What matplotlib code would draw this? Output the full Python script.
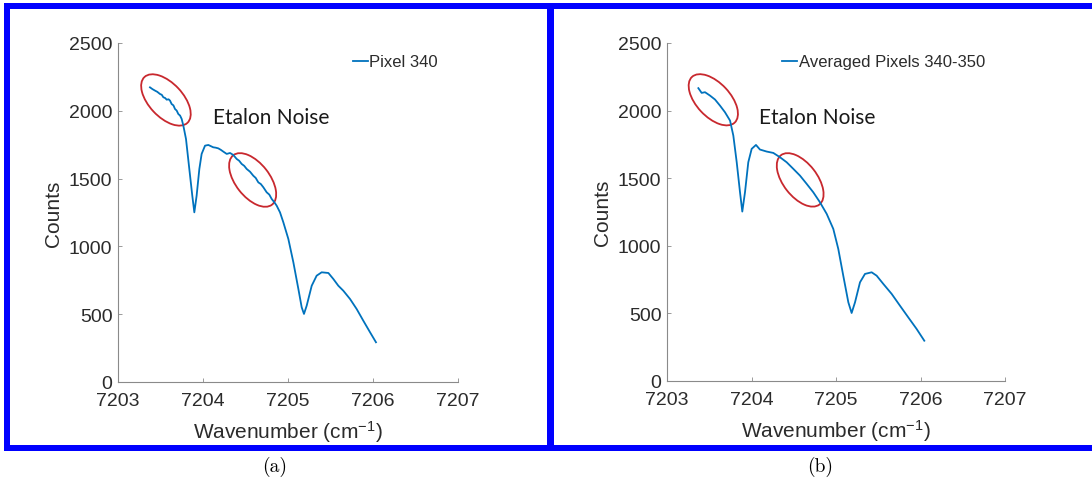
import matplotlib
matplotlib.use("Agg")
import matplotlib.pyplot as plt
from matplotlib.patches import Ellipse, Rectangle

plt.rcParams['font.family'] = ['Liberation Sans', 'DejaVu Sans']
plt.rcParams['mathtext.fontset'] = 'custom'
plt.rcParams['mathtext.rm'] = 'Liberation Sans'
plt.rcParams['mathtext.it'] = 'Liberation Sans:italic'

# pixel 340 spectrum
wn_a = [7203.376, 7203.405, 7203.435, 7203.462, 7203.494, 7203.515, 7203.533, 7203.555,
        7203.573, 7203.595, 7203.612, 7203.631, 7203.652, 7203.671, 7203.690, 7203.710,
        7203.730, 7203.749, 7203.769, 7203.800, 7203.839, 7203.874, 7203.898, 7203.925,
        7203.957, 7203.984, 7204.024, 7204.063, 7204.090, 7204.120, 7204.150, 7204.180,
        7204.210, 7204.239, 7204.279, 7204.318, 7204.357, 7204.396, 7204.425, 7204.455,
        7204.485, 7204.514, 7204.553, 7204.592, 7204.620, 7204.651, 7204.680, 7204.710,
        7204.749, 7204.780, 7204.808, 7204.840, 7204.867, 7204.906, 7204.945, 7205.004,
        7205.063, 7205.122, 7205.161, 7205.188, 7205.220, 7205.279, 7205.337, 7205.396,
        7205.475, 7205.533, 7205.592, 7205.651, 7205.730, 7205.808, 7205.886, 7205.965,
        7206.035]
counts_a = [2173, 2160, 2149, 2140, 2124, 2118, 2100, 2094, 2082, 2085, 2075, 2050,
            2040, 2013, 2002, 1976, 1965, 1940, 1890, 1792, 1571, 1374, 1251, 1374,
            1571, 1682, 1743, 1748, 1740, 1731, 1728, 1723, 1712, 1699, 1682, 1689,
            1674, 1645, 1632, 1608, 1594, 1571, 1551, 1521, 1505, 1472, 1460, 1436,
            1399, 1382, 1350, 1325, 1300, 1251, 1178, 1055, 883, 686, 551, 502,
            563, 710, 784, 809, 804, 760, 710, 673, 612, 538, 452, 367, 293]

# averaged pixels 340-350 (panel b)
wn_b = [7203.371, 7203.410, 7203.450, 7203.509, 7203.568, 7203.627, 7203.686, 7203.746,
        7203.785, 7203.825, 7203.864, 7203.891, 7203.923, 7203.962, 7204.002, 7204.053,
        7204.100, 7204.180, 7204.258, 7204.337, 7204.416, 7204.495, 7204.574, 7204.653,
        7204.731, 7204.810, 7204.890, 7204.968, 7205.027, 7205.086, 7205.146, 7205.185,
        7205.225, 7205.284, 7205.343, 7205.422, 7205.481, 7205.560, 7205.659, 7205.757,
        7205.855, 7205.954, 7206.045]
counts_b = [2166, 2131, 2136, 2111, 2082, 2037, 1988, 1926, 1815, 1618, 1396, 1253,
            1396, 1618, 1717, 1746, 1712, 1697, 1687, 1655, 1618, 1569, 1519, 1458,
            1396, 1322, 1236, 1125, 977, 779, 582, 503, 582, 730, 792, 804,
            779, 718, 644, 557, 471, 385, 298]

labels = ['Pixel 340', 'Averaged Pixels 340-350']
captions = ['(a)', '(b)']
xticks = [7203, 7204, 7205, 7206, 7207]
yticks = [0, 500, 1000, 1500, 2000, 2500]

W, H = 1092, 485
fig = plt.figure(figsize=(W / 100, H / 100), dpi=100)

axes_px = [(118, 383, 340, 339), (667, 382, 338, 338)]  # left, bottom(from top), w, h
ellipses = [[(0.141, 0.832, -47), (0.396, 0.596, -52)],
            [(0.137, 0.832, -47), (0.394, 0.595, -52)]]
note_pos = [(0.451, 0.782), (0.445, 0.781)]
cap_x = [275, 820]

for i, (wn, cnt) in enumerate([(wn_a, counts_a), (wn_b, counts_b)]):
    l, b, w, h = axes_px[i]
    ax = fig.add_axes([l / W, 1 - b / H, w / W, h / H])
    ax.plot(wn, cnt, color='#0072BD', lw=1.3, label=labels[i])
    ax.set_xlim(7203, 7207)
    ax.set_ylim(0, 2500)
    ax.set_xticks(xticks)
    ax.set_yticks(yticks)
    for s in ['top', 'right']:
        ax.spines[s].set_visible(False)
    for s in ['left', 'bottom']:
        ax.spines[s].set_color('#8a8a8a')
        ax.spines[s].set_linewidth(0.8)
    ax.tick_params(direction='in', length=3, width=0.6, color='#8a8a8a',
                   labelsize=14, labelcolor='#2b2b2b')
    ax.tick_params(axis='x', pad=7)
    ax.tick_params(axis='y', pad=4)
    ax.set_xlabel('Wavenumber (cm$^{-1}$)', fontsize=15, color='#2b2b2b', labelpad=7)
    ax.set_ylabel('Counts', fontsize=15, color='#2b2b2b', labelpad=4)
    leg = ax.legend(loc='center right', bbox_to_anchor=(0.985, 0.944), frameon=False,
                    handlelength=0.9, handletextpad=0.1, fontsize=12)
    for t in leg.get_texts():
        t.set_color('#2b2b2b')
    for cx, cy, ang in ellipses[i]:
        ax.add_patch(Ellipse((cx, cy), 0.185, 0.1, angle=ang, transform=ax.transAxes,
                             fill=False, ec='#C8282E', lw=1.3))
    ax.text(note_pos[i][0], note_pos[i][1], 'Etalon Noise', transform=ax.transAxes,
            ha='center', va='center', fontsize=15, family='Lato', color='#1a1a1a')
    fig.text(cap_x[i] / W, 1 - 467 / H, captions[i], ha='center', va='center',
             fontsize=14, family='cmr10')

# blue frames around the two panels
bars = [(4, 4, 1088, 6), (4, 446, 1088, 6), (4, 4, 6, 448), (547, 4, 7, 448)]
for x0, y0, bw, bh in bars:
    fig.patches.append(Rectangle((x0 / W, 1 - (y0 + bh) / H), bw / W, bh / H,
                                 transform=fig.transFigure, color='#0000FF', lw=0))

fig.savefig('out.png', dpi=100)
